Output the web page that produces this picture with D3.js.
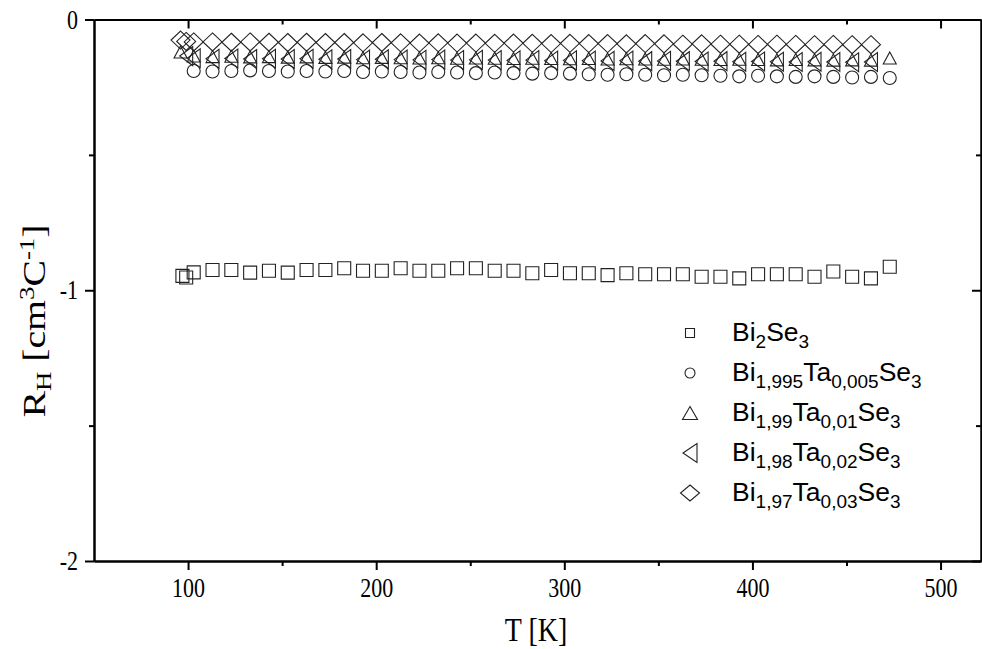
<!DOCTYPE html>
<html>
<head>
<meta charset="utf-8">
<script src="https://cdn.jsdelivr.net/npm/d3@7"></script>
<style>
  body { margin: 0; background: #fff; }
  svg { display: block; }
</style>
</head>
<body>
<svg id="chart" width="982" height="649"></svg>
<script>
// ---- Hall coefficient R_H (cm^3/C) versus temperature T (K) ----

// Bi2Se3
const bi2se3T = [97, 99, 103, 113, 123, 133, 143, 153, 163, 173, 183, 193, 203, 213, 223, 233, 243, 253, 263, 273,
  283, 293, 303, 313, 323, 333, 343, 353, 363, 373, 383, 393, 403, 413, 423, 433, 443, 453, 463, 473];
const bi2se3R = [-0.947, -0.953, -0.934, -0.925, -0.925, -0.935, -0.928, -0.935, -0.925, -0.925, -0.919, -0.928,
  -0.928, -0.919, -0.928, -0.928, -0.919, -0.919, -0.928, -0.928, -0.937, -0.925, -0.937, -0.937, -0.944, -0.937,
  -0.941, -0.941, -0.941, -0.950, -0.950, -0.956, -0.941, -0.941, -0.941, -0.950, -0.931, -0.950, -0.956, -0.913];

// Bi1.995Ta0.005Se3
const ta005T = [103, 113, 123, 133, 143, 153, 163, 173, 183, 193, 203, 213, 223, 233, 243, 253, 263, 273, 283,
  293, 303, 313, 323, 333, 343, 353, 363, 373, 383, 393, 403, 413, 423, 433, 443, 453, 463, 473];
const ta005R = [-0.190, -0.192, -0.190, -0.188, -0.190, -0.192, -0.190, -0.192, -0.190, -0.194, -0.192, -0.194,
  -0.196, -0.194, -0.196, -0.198, -0.196, -0.198, -0.200, -0.198, -0.200, -0.202, -0.204, -0.202, -0.204, -0.206,
  -0.204, -0.206, -0.208, -0.210, -0.208, -0.210, -0.212, -0.210, -0.212, -0.214, -0.212, -0.216];

// Bi1.99Ta0.01Se3
const ta01T = [96, 103, 113, 123, 133, 143, 153, 163, 173, 183, 193, 203, 213, 223, 233, 243, 253, 263, 273, 283,
  293, 303, 313, 323, 333, 343, 353, 363, 373, 383, 393, 403, 413, 423, 433, 443, 453, 463, 473];
const ta01R = [-0.120, -0.135, -0.137, -0.136, -0.138, -0.137, -0.139, -0.138, -0.140, -0.139, -0.141, -0.140,
  -0.141, -0.142, -0.141, -0.143, -0.142, -0.143, -0.144, -0.143, -0.144, -0.145, -0.144, -0.146, -0.145, -0.146,
  -0.147, -0.146, -0.147, -0.148, -0.147, -0.148, -0.149, -0.148, -0.149, -0.150, -0.149, -0.150, -0.142];

// Bi1.98Ta0.02Se3
const ta02T = [99, 103, 113, 123, 133, 143, 153, 163, 173, 183, 193, 203, 213, 223, 233, 243, 253, 263, 273, 283,
  293, 303, 313, 323, 333, 343, 353, 363, 373, 383, 393, 403, 413, 423, 433, 443, 453, 463];
const ta02R = [-0.135, -0.143, -0.145, -0.144, -0.146, -0.145, -0.146, -0.145, -0.147, -0.146, -0.148, -0.147,
  -0.148, -0.149, -0.148, -0.150, -0.149, -0.150, -0.151, -0.150, -0.152, -0.151, -0.152, -0.153, -0.152, -0.154,
  -0.153, -0.154, -0.155, -0.154, -0.156, -0.155, -0.156, -0.157, -0.156, -0.157, -0.158, -0.157];

// Bi1.97Ta0.03Se3
const ta03T = [96, 99, 103, 113, 123, 133, 143, 153, 163, 173, 183, 193, 203, 213, 223, 233, 243, 253, 263, 273,
  283, 293, 303, 313, 323, 333, 343, 353, 363, 373, 383, 393, 403, 413, 423, 433, 443, 453, 463];
const ta03R = [-0.076, -0.081, -0.083, -0.083, -0.084, -0.083, -0.084, -0.085, -0.084, -0.085, -0.085, -0.086,
  -0.085, -0.086, -0.087, -0.086, -0.087, -0.087, -0.088, -0.087, -0.088, -0.089, -0.088, -0.089, -0.089, -0.090,
  -0.089, -0.090, -0.091, -0.090, -0.091, -0.091, -0.092, -0.091, -0.092, -0.093, -0.092, -0.093, -0.093];

// Tick values
const xMajorTicks = [100, 200, 300, 400, 500];
const xMinorTicks = [150, 250, 350, 450];
const yMajorTicks = [0, -1, -2];
const yMinorTicks = [-0.5, -1.5];

// Legend labels split into [text, role] pieces (role: "" normal, "sub" subscript)
const legendLabels = [
  [["Bi", ""], ["2", "sub"], ["Se", ""], ["3", "sub"]],
  [["Bi", ""], ["1,995", "sub"], ["Ta", ""], ["0,005", "sub"], ["Se", ""], ["3", "sub"]],
  [["Bi", ""], ["1,99", "sub"], ["Ta", ""], ["0,01", "sub"], ["Se", ""], ["3", "sub"]],
  [["Bi", ""], ["1,98", "sub"], ["Ta", ""], ["0,02", "sub"], ["Se", ""], ["3", "sub"]],
  [["Bi", ""], ["1,97", "sub"], ["Ta", ""], ["0,03", "sub"], ["Se", ""], ["3", "sub"]]
];

const series = [
  { T: bi2se3T, R: bi2se3R, shape: "square" },
  { T: ta005T, R: ta005R, shape: "circle" },
  { T: ta01T, R: ta01R, shape: "triangle" },
  { T: ta02T, R: ta02R, shape: "leftTriangle" },
  { T: ta03T, R: ta03R, shape: "diamond" }
];

// ---- Layout ----
const plot = { left: 94, right: 981, top: 19.5, bottom: 561 };

const x = d3.scaleLinear().domain([50, 521.5]).range([plot.left, plot.right]);
const y = d3.scaleLinear().domain([-2, 0]).range([plot.bottom, plot.top]);

const svg = d3.select("#chart");
const serif = "'Liberation Serif', 'Times New Roman', serif";
const sans = "'Liberation Sans', Arial, sans-serif";

// Hollow marker outlines [width, height]
const markerSizes = {
  plot:   { square: [13, 13], circle: [13, 13], triangle: [13, 12], leftTriangle: [13, 19], diamond: [19, 18] },
  legend: { square: [9, 9],   circle: [10, 10], triangle: [15, 13], leftTriangle: [14, 19], diamond: [19, 16] }
};
function shapePath(kind, w, h) {
  const a = w / 2, b = h / 2;
  if (kind === "square") return `M${-a},${-b}H${a}V${b}H${-a}Z`;
  if (kind === "circle") { const p = d3.path(); p.moveTo(a, 0); p.arc(0, 0, a, 0, 2 * Math.PI); p.closePath(); return p.toString(); }
  if (kind === "triangle") return `M0,${-b}L${a},${b}L${-a},${b}Z`;
  if (kind === "leftTriangle") return `M${-a},0L${a},${-b}L${a},${b}Z`;
  return `M0,${-b}L${a},0L0,${b}L${-a},0Z`;
}

// ---- Data markers ----
const marks = svg.append("g").attr("class", "marks");
series.forEach(s => {
  const [w, h] = markerSizes.plot[s.shape];
  marks.append("g")
    .selectAll("path")
    .data(s.T.map((t, i) => [t, s.R[i]]))
    .join("path")
    .attr("transform", d => `translate(${x(d[0])},${y(d[1])})`)
    .attr("d", shapePath(s.shape, w, h))
    .attr("fill", "none")
    .attr("stroke", "#222")
    .attr("stroke-width", 1.1);
});

// ---- Axes ----
function styleAxis(g) {
  g.select(".domain").attr("stroke", "#000").attr("stroke-width", 2);
  g.selectAll(".tick line").attr("stroke", "#000").attr("stroke-width", 2);
}

// bottom: major ticks with labels, minor ticks without
const gBottom = svg.append("g").attr("transform", `translate(0,${plot.bottom})`)
  .call(d3.axisBottom(x).tickValues(xMajorTicks).tickSize(9).tickSizeOuter(0).tickFormat(d => String(d)))
  .call(styleAxis);
gBottom.selectAll(".tick text")
  .attr("y", 0).attr("dy", null)
  .attr("transform", "translate(0,36) scale(1,1.2)")
  .attr("font-family", serif).attr("font-size", 22).attr("fill", "#000");
svg.append("g").attr("transform", `translate(0,${plot.bottom})`)
  .call(d3.axisBottom(x).tickValues(xMinorTicks).tickSize(5).tickSizeOuter(0).tickFormat(""))
  .call(styleAxis);

// top: inward ticks
svg.append("g").attr("transform", `translate(0,${plot.top})`)
  .call(d3.axisTop(x).tickValues(xMajorTicks).tickSize(-9).tickSizeOuter(0).tickFormat(""))
  .call(styleAxis);
svg.append("g").attr("transform", `translate(0,${plot.top})`)
  .call(d3.axisTop(x).tickValues(xMinorTicks).tickSize(-5).tickSizeOuter(0).tickFormat(""))
  .call(styleAxis);

// left: outward ticks with labels
const gLeft = svg.append("g").attr("transform", `translate(${plot.left},0)`)
  .call(d3.axisLeft(y).tickValues(yMajorTicks).tickSize(9).tickSizeOuter(0).tickFormat(d => String(d)))
  .call(styleAxis);
gLeft.selectAll(".tick text")
  .attr("x", 0).attr("dy", null)
  .attr("transform", "translate(-16,8.5) scale(1,1.2)")
  .attr("font-family", serif).attr("font-size", 22).attr("fill", "#000");
svg.append("g").attr("transform", `translate(${plot.left},0)`)
  .call(d3.axisLeft(y).tickValues(yMinorTicks).tickSize(5).tickSizeOuter(0).tickFormat(""))
  .call(styleAxis);

// right: inward ticks
svg.append("g").attr("transform", `translate(${plot.right},0)`)
  .call(d3.axisLeft(y).tickValues(yMajorTicks).tickSize(9).tickSizeOuter(0).tickFormat(""))
  .call(styleAxis);
svg.append("g").attr("transform", `translate(${plot.right},0)`)
  .call(d3.axisLeft(y).tickValues(yMinorTicks).tickSize(5).tickSizeOuter(0).tickFormat(""))
  .call(styleAxis);

// ---- Axis titles ----
svg.append("text")
  .attr("transform", "translate(536,641) scale(1,1.2)")
  .attr("text-anchor", "middle")
  .attr("font-family", serif).attr("font-size", 28).attr("fill", "#000")
  .text("T [K]");

const yTitle = svg.append("text")
  .attr("transform", "translate(45,321) rotate(-90) scale(1.28,1)")
  .attr("text-anchor", "middle")
  .attr("font-family", serif).attr("font-size", 31).attr("fill", "#000");
yTitle.append("tspan").text("R");
yTitle.append("tspan").attr("font-size", 21).attr("dy", 6).text("H");
yTitle.append("tspan").attr("dy", -6).text(" [cm");
yTitle.append("tspan").attr("font-size", 21).attr("dy", -11).text("3");
yTitle.append("tspan").attr("dy", 11).text("C");
yTitle.append("tspan").attr("font-size", 21).attr("dy", -11).text("-1");
yTitle.append("tspan").attr("dy", 11).text("]");

// ---- Legend ----
const legend = svg.append("g").attr("class", "legend");
series.forEach((s, i) => {
  const baseY = 341 + i * 40;
  const [w, h] = markerSizes.legend[s.shape];
  legend.append("path")
    .attr("transform", `translate(690,${baseY - 8})`)
    .attr("d", shapePath(s.shape, w, h))
    .attr("fill", "none").attr("stroke", "#222").attr("stroke-width", 1.1);
  const t = legend.append("text")
    .attr("x", 732).attr("y", baseY)
    .attr("font-family", sans).attr("font-size", 26.5).attr("fill", "#000");
  let shifted = false;
  legendLabels[i].forEach(([str, role]) => {
    const sp = t.append("tspan").text(str);
    if (role === "sub") {
      sp.attr("font-size", 19);
      if (!shifted) { sp.attr("dy", 7); shifted = true; }
    } else if (shifted) {
      sp.attr("dy", -7); shifted = false;
    }
  });
});
</script>
</body>
</html>
